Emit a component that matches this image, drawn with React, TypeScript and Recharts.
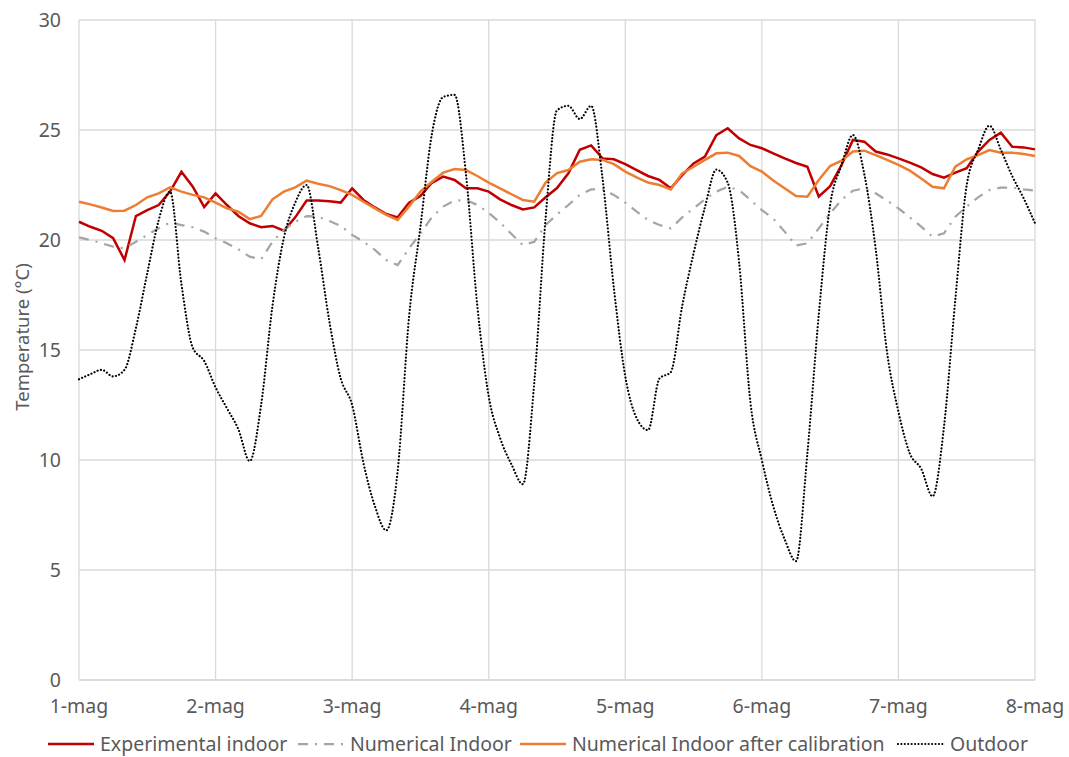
import { LineChart, Line, XAxis, YAxis, CartesianGrid } from 'recharts'

// 2-hour samples, 1-mag 00:00 -> 8-mag 00:00
const hours = Array.from({ length: 85 }, (_, i) => i * 2)

const dayLabels = ['1-mag', '2-mag', '3-mag', '4-mag', '5-mag', '6-mag', '7-mag', '8-mag']
const dayTicks = [0, 24, 48, 72, 96, 120, 144, 168]
const yTicks = [0, 5, 10, 15, 20, 25, 30]

const experimental = [
  20.83, 20.6, 20.42, 20.08, 19.09, 21.09, 21.36, 21.59, 22.2, 23.1, 22.42, 21.5,
  22.12, 21.59, 21.09, 20.76, 20.58, 20.64, 20.42, 21.03, 21.79, 21.79, 21.76, 21.7,
  22.35, 21.82, 21.48, 21.18, 21.03, 21.7, 22.0, 22.6, 22.88, 22.73, 22.35, 22.35,
  22.2, 21.85, 21.59, 21.39, 21.48, 21.94, 22.36, 23.03, 24.1, 24.3, 23.71, 23.67,
  23.45, 23.18, 22.91, 22.73, 22.35, 22.95, 23.48, 23.79, 24.77, 25.08, 24.62, 24.32,
  24.17, 23.94, 23.71, 23.5, 23.33, 21.97, 22.45, 23.41, 24.55, 24.47, 24.02, 23.89,
  23.71, 23.52, 23.3, 23.0, 22.83, 23.06, 23.26, 24.02, 24.55, 24.88, 24.24, 24.21,
  24.12,
]

const numerical = [
  20.12, 20.0, 19.85, 19.7, 19.62, 19.92, 20.23, 20.53, 20.79, 20.68, 20.58, 20.38,
  20.08, 19.85, 19.58, 19.24, 19.12, 19.92, 20.45, 20.83, 21.09, 21.06, 20.86, 20.64,
  20.23, 19.92, 19.55, 19.09, 18.86, 19.62, 20.3, 21.03, 21.52, 21.79, 21.82, 21.59,
  21.24, 20.79, 20.27, 19.77, 19.92, 20.68, 21.16, 21.59, 22.05, 22.3, 22.3, 22.05,
  21.7, 21.29, 20.91, 20.68, 20.53, 21.03, 21.44, 21.85, 22.2, 22.42, 22.27, 21.82,
  21.36, 20.98, 20.38, 19.75, 19.85, 20.53, 21.21, 21.82, 22.24, 22.35, 22.12, 21.79,
  21.44, 21.03, 20.61, 20.15, 20.3, 21.06, 21.52, 21.94, 22.27, 22.38, 22.39, 22.3,
  22.24,
]

const calibrated = [
  21.74, 21.62, 21.48, 21.32, 21.33, 21.59, 21.94, 22.12, 22.39, 22.2, 22.05, 21.94,
  21.7, 21.44, 21.29, 20.95, 21.09, 21.85, 22.2, 22.39, 22.7, 22.56, 22.45, 22.27,
  22.05, 21.74, 21.44, 21.14, 20.91, 21.52, 22.2, 22.65, 23.06, 23.23, 23.18, 22.91,
  22.61, 22.35, 22.08, 21.82, 21.74, 22.61, 23.04, 23.18, 23.56, 23.67, 23.64, 23.45,
  23.11, 22.85, 22.61, 22.5, 22.3, 23.03, 23.33, 23.64, 23.94, 23.97, 23.82, 23.36,
  23.11, 22.7, 22.35, 22.0, 21.97, 22.73, 23.36, 23.61, 24.02, 24.06, 23.86, 23.64,
  23.41, 23.15, 22.8, 22.42, 22.35, 23.33, 23.67, 23.86, 24.09, 23.97, 23.97, 23.91,
  23.82,
]

const outdoor = [
  13.67, 13.9, 14.1, 13.8, 14.1, 16.0, 18.5, 20.9, 22.2, 18.0, 15.1, 14.5,
  13.3, 12.35, 11.4, 9.95, 12.5, 17.0, 20.1, 21.7, 22.5, 19.7, 16.3, 13.7,
  12.5, 9.85, 7.9, 6.8, 9.5, 16.5, 20.6, 24.8, 26.5, 26.6, 23.0, 17.0,
  12.9, 11.0, 9.8, 8.9, 13.5, 21.0, 25.9, 26.1, 25.5, 26.1, 22.8, 17.8,
  13.8, 11.9, 11.36, 13.7, 14.0, 17.0, 19.4, 21.5, 23.2, 22.6, 19.0, 12.6,
  10.0, 7.9, 6.4, 5.4, 10.3, 16.6, 21.6, 23.4, 24.77, 23.0, 19.6, 14.9,
  12.2, 10.3, 9.6, 8.35, 11.5, 17.3, 22.5, 24.1, 25.2, 24.1, 22.9, 21.9,
  20.76,
]

const rows = hours.map((h, i) => ({
  h,
  experimental: experimental[i],
  numerical: numerical[i],
  calibrated: calibrated[i],
  outdoor: outdoor[i],
}))

const FONT = '"Noto Sans", sans-serif'
const TXT = '#595959'
const GRID = '#D9D9D9'

const legendItems = [
  { name: 'Experimental indoor', color: '#C00000', dash: undefined, w: 2.5, cap: 'butt', x: 47 },
  { name: 'Numerical Indoor', color: '#A5A5A5', dash: '10 7 2 7', w: 2.25, cap: 'butt', x: 297 },
  { name: 'Numerical Indoor after calibration', color: '#ED7D31', dash: undefined, w: 2.5, cap: 'butt', x: 519 },
  { name: 'Outdoor', color: '#000000', dash: '0.01 3.4', w: 2.2, cap: 'round', x: 897 },
]

export default function App() {
  return (
    <div style={{ position: 'absolute', left: 0, top: 0, width: 1069, height: 757, background: '#fff', overflow: 'hidden', fontFamily: FONT }}>
      <LineChart width={1069} height={757} data={rows} margin={{ top: 20, right: 34, left: 0, bottom: 37 }}>
        <CartesianGrid stroke={GRID} strokeWidth={1.3} />
        <XAxis
          dataKey="h"
          type="number"
          domain={[0, 168]}
          ticks={dayTicks}
          tickFormatter={(v: number) => dayLabels[dayTicks.indexOf(v)]}
          axisLine={{ stroke: GRID, strokeWidth: 1.3 }}
          tickLine={false}
          tickMargin={13}
          height={40}
          interval={0}
          tick={{ fill: TXT, fontSize: 19.5, fontFamily: FONT }}
        />
        <YAxis
          domain={[0, 30]}
          ticks={yTicks}
          axisLine={false}
          tickLine={false}
          tickMargin={12}
          width={79}
          interval={0}
          tick={{ fill: TXT, fontSize: 19.5, fontFamily: FONT }}
        />
        <Line dataKey="experimental" stroke="#C00000" strokeWidth={2.5} dot={false} type="linear" isAnimationActive={false} />
        <Line dataKey="numerical" stroke="#A5A5A5" strokeWidth={2.25} strokeDasharray="10 7 2 7" dot={false} type="linear" isAnimationActive={false} />
        <Line dataKey="calibrated" stroke="#ED7D31" strokeWidth={2.5} dot={false} type="linear" isAnimationActive={false} />
        <Line dataKey="outdoor" stroke="#000000" strokeWidth={2.2} strokeDasharray="0.01 3.4" strokeLinecap="round" dot={false} type="monotone" isAnimationActive={false} />
      </LineChart>

      <div
        style={{
          position: 'absolute', left: -78, top: 326, width: 200, lineHeight: '22px',
          textAlign: 'center', transform: 'rotate(-90deg)', color: TXT, fontSize: 18.5,
        }}
      >
        Temperature (°C)
      </div>

      {legendItems.map((it) => (
        <div key={it.name} style={{ position: 'absolute', left: it.x, top: 731, height: 26, display: 'flex', alignItems: 'center', whiteSpace: 'nowrap' }}>
          <svg width={48} height={10} style={{ marginRight: 5 }}>
            <line x1={1} y1={5} x2={47} y2={5} stroke={it.color} strokeWidth={it.w} strokeDasharray={it.dash} strokeLinecap={it.cap as 'butt' | 'round'} />
          </svg>
          <span style={{ color: TXT, fontSize: 19.5, lineHeight: '26px' }}>{it.name}</span>
        </div>
      ))}
    </div>
  )
}
